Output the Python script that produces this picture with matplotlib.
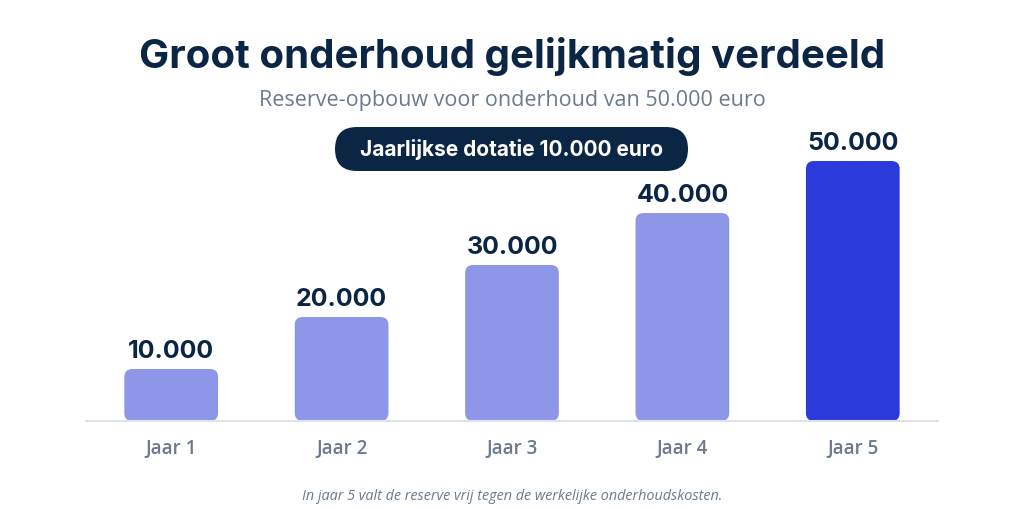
import matplotlib.pyplot as plt
from matplotlib.patches import FancyBboxPatch

# data
years = ['Jaar 1', 'Jaar 2', 'Jaar 3', 'Jaar 4', 'Jaar 5']
reserve = [10000, 20000, 30000, 40000, 50000]
value_labels = ['10.000', '20.000', '30.000', '40.000', '50.000']

title = 'Groot onderhoud gelijkmatig verdeeld'
subtitle = 'Reserve-opbouw voor onderhoud van 50.000 euro'
pill_text = 'Jaarlijkse dotatie 10.000 euro'
footnote = 'In jaar 5 valt de reserve vrij tegen de werkelijke onderhoudskosten.'

navy = '#0b2545'
grey = '#6b7a8f'
light = '#8e96e8'
dark = '#2d3adb'

W, H = 1024, 510
fig = plt.figure(figsize=(W / 100, H / 100), dpi=100)
fig.patch.set_facecolor('white')

# axes placed in pixels: left 86, right 938, baseline at 422 from top, 60000 at 110
ax_l, ax_r, ax_b, ax_t = 86, 938, H - 422, H - 110
ax = fig.add_axes([ax_l / W, ax_b / H, (ax_r - ax_l) / W, (ax_t - ax_b) / H])
ax.set_xlim(-0.5, 4.5)
ax.set_ylim(0, 60000)

colors = [light] * 4 + [dark]
bars = ax.bar(range(len(years)), reserve, width=0.55, color=colors)

# swap plain bars for rounded ones
px_x = (ax_r - ax_l) / 5.0
px_y = (ax_t - ax_b) / 60000.0
aspect = px_x / px_y
radius = 8 / px_x
for rect, c in zip(bars, colors):
    x, y = rect.get_x(), rect.get_y()
    w, h = rect.get_width(), rect.get_height()
    rect.set_visible(False)
    p = FancyBboxPatch((x, y), w, h,
                       boxstyle=f'round,pad=0,rounding_size={radius}',
                       mutation_aspect=aspect, facecolor=c, edgecolor='none',
                       zorder=2)
    ax.add_patch(p)

for i, (v, lab) in enumerate(zip(reserve, value_labels)):
    ax.annotate(lab, (i, v), xytext=(0, 5), textcoords='offset points',
                ha='center', va='bottom', fontsize=18, fontweight='bold',
                color=navy, family=['Inter', 'DejaVu Sans'])

for s in ['top', 'right', 'left']:
    ax.spines[s].set_visible(False)
ax.spines['bottom'].set_color('#dde3ea')
ax.spines['bottom'].set_linewidth(1.5)
ax.spines['bottom'].set_zorder(3)
ax.set_yticks([])
ax.set_xticks(range(len(years)))
ax.set_xticklabels(years, fontsize=13.5, color=grey, fontweight='semibold',
                   family=['Open Sans', 'DejaVu Sans'])
ax.tick_params(axis='x', length=0, pad=12)

# header texts
fig.text(0.5, 1 - 57 / H, title, ha='center', va='center', fontsize=29,
         fontweight='bold', color=navy, family=['Inter', 'DejaVu Sans'])
fig.text(0.5, 1 - 101 / H, subtitle, ha='center', va='center', fontsize=15.5,
         color=grey, family=['Open Sans', 'DejaVu Sans'])

# pill
pl, pr, pt, pb = 335, 688, 128, 172
pill = FancyBboxPatch((pl / W, 1 - pb / H), (pr - pl) / W, (pb - pt) / H,
                      boxstyle=f'round,pad=0,rounding_size={22 / W}',
                      mutation_aspect=W / H, transform=fig.transFigure,
                      facecolor=navy, edgecolor='none')
fig.patches.append(pill)
fig.text((pl + pr) / 2 / W, 1 - 150 / H, pill_text, ha='center', va='center',
         fontsize=15, fontweight='bold', color='white',
         family=['Inter', 'DejaVu Sans'])

fig.text(0.5, 1 - 497 / H, footnote, ha='center', va='center', fontsize=10.4,
         style='italic', color=grey, family=['Open Sans', 'DejaVu Sans'])

fig.savefig('out.png', dpi=100)
